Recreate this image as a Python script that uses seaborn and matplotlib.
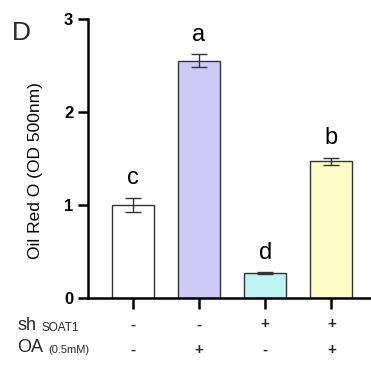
import matplotlib
matplotlib.use("Agg")
import matplotlib.pyplot as plt
import seaborn as sns
import pandas as pd

groups = ["G1", "G2", "G3", "G4"]
means = [1.00, 2.55, 0.27, 1.47]
errors = [0.08, 0.07, 0.01, 0.04]
letters = ["c", "a", "d", "b"]
colors = ["#ffffff", "#cfc9f7", "#bff4f4", "#fdfbc6"]
sh_row = ["-", "-", "+", "+"]
oa_row = ["-", "+", "-", "+"]

sns.set_style("ticks")
plt.rcParams['font.family'] = ['Liberation Sans', 'DejaVu Sans']

df = pd.DataFrame({"group": groups, "mean": means})

fig = plt.figure(figsize=(3.71, 3.65), dpi=100)
ax = fig.add_axes([0.237, 0.1836, 0.763, 0.7644])

sns.barplot(data=df, x="group", y="mean", hue="group", palette=colors,
            saturation=1, width=0.64, edgecolor="#333333", linewidth=1.0,
            legend=False, ax=ax)
ax.errorbar(range(len(groups)), means, yerr=errors, fmt="none",
            ecolor="#333333", elinewidth=1.0, capsize=6, capthick=1.0)

for i, (m, e, l) in enumerate(zip(means, errors, letters)):
    ax.text(i, m + e + 0.09, l, ha="center", va="bottom", fontsize=17, color="black")

ax.set_ylim(0, 3)
ax.set_xlim(-0.68, 3.6)
ax.set_yticks([0, 1, 2, 3])
ax.set_yticklabels(["0", "1", "2", "3"], fontweight="bold", fontsize=12)
ax.set_xticks(range(len(groups)))
ax.set_xticklabels([""] * len(groups))
ax.tick_params(axis="both", width=1.8, length=7, color="black", labelcolor="black")
ax.tick_params(axis="x", direction="out", length=8)
ax.set_xlabel("")
ax.set_ylabel("Oil Red O (OD 500nm)", fontsize=12.5, color="black")
ax.yaxis.set_label_coords(-0.16, 0.455)
for s in ["left", "bottom"]:
    ax.spines[s].set_linewidth(1.8)
    ax.spines[s].set_color("black")
sns.despine(ax=ax)

trans = ax.get_xaxis_transform()
for i in range(len(groups)):
    ax.text(i, -0.095, sh_row[i], transform=trans, ha="center", va="center",
            fontsize=11, fontweight="bold")
    ax.text(i, -0.185, oa_row[i], transform=trans, ha="center", va="center",
            fontsize=11, fontweight="bold")

fig.text(17 / 371, 1 - 326 / 365, "sh", fontsize=13, va="center", ha="left")
fig.text(42 / 371, 1 - 328 / 365, "SOAT1", fontsize=8.5, va="center", ha="left")
fig.text(17 / 371, 1 - 347 / 365, "OA", fontsize=13, va="center", ha="left")
fig.text(48 / 371, 1 - 350 / 365, "(0.5mM)", fontsize=8, va="center", ha="left")
fig.text(12 / 371, 1 - 33 / 365, "D", fontsize=19, va="center", ha="left")

fig.savefig("out.png", dpi=100)
